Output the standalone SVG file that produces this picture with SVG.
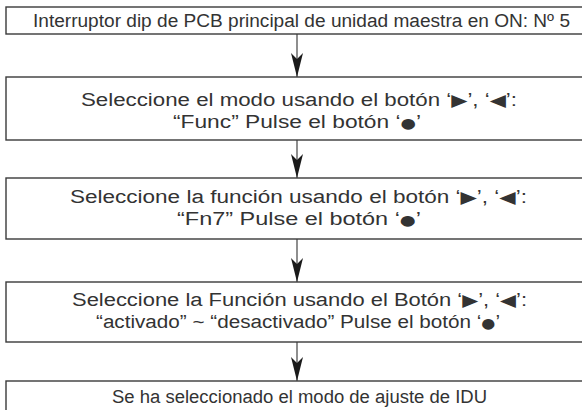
<svg xmlns="http://www.w3.org/2000/svg" width="582" height="410" viewBox="0 0 582 410">
<defs>
<style>
.box{fill:#fff;stroke:#3a3a3a;stroke-width:1.4}
.t{font-family:"Liberation Sans",Arial,sans-serif;font-size:18px;fill:#333;text-anchor:middle}
.s{font-family:"DejaVu Sans",sans-serif;font-size:17px}
.d{font-family:"DejaVu Sans",sans-serif;font-size:14px}
.c{stroke:#444;stroke-width:1.2;fill:none}
</style>
<marker id="ah" viewBox="0 0 24 14" refX="24" refY="7" markerWidth="24" markerHeight="14" markerUnits="userSpaceOnUse" orient="auto">
<path d="M0,1 L24,7 L0,13 L6,7 Z" fill="#1a1a1a"/>
</marker>
</defs>
<rect width="582" height="410" fill="#fff"/>
<g id="connectors">
<line class="c" x1="297" y1="34" x2="297" y2="77" marker-end="url(#ah)"/>
<line class="c" x1="297" y1="140" x2="297" y2="178" marker-end="url(#ah)"/>
<line class="c" x1="297" y1="239" x2="297" y2="282" marker-end="url(#ah)"/>
<line class="c" x1="297" y1="342" x2="297" y2="381" marker-end="url(#ah)"/>
</g>
<g id="n1">
<rect class="box" x="6" y="7" width="590" height="27"/>
<text class="t" x="301.5" y="27" textLength="537" lengthAdjust="spacingAndGlyphs">Interruptor dip de PCB principal de unidad maestra en ON: Nº 5</text>
</g>
<g id="n2">
<rect class="box" x="6" y="77" width="590" height="63"/>
<text class="t" x="299" y="106" textLength="436" lengthAdjust="spacingAndGlyphs">Seleccione el modo usando el botón ‘<tspan class="s">▶</tspan>’, ‘<tspan class="s">◀</tspan>’:</text>
<text class="t" x="297" y="128" textLength="248" lengthAdjust="spacingAndGlyphs">“Func” Pulse el botón ‘<tspan class="d">●</tspan>’</text>
</g>
<g id="n3">
<rect class="box" x="6" y="178" width="590" height="61"/>
<text class="t" x="298.5" y="203" textLength="457" lengthAdjust="spacingAndGlyphs">Seleccione la función usando el botón ‘<tspan class="s">▶</tspan>’, ‘<tspan class="s">◀</tspan>’:</text>
<text class="t" x="299" y="225" textLength="244" lengthAdjust="spacingAndGlyphs">“Fn7” Pulse el botón ‘<tspan class="d">●</tspan>’</text>
</g>
<g id="n4">
<rect class="box" x="6" y="282" width="590" height="60"/>
<text class="t" x="299.5" y="306" textLength="455" lengthAdjust="spacingAndGlyphs">Seleccione la Función usando el Botón ‘<tspan class="s">▶</tspan>’, ‘<tspan class="s">◀</tspan>’:</text>
<text class="t" x="298" y="328" textLength="404" lengthAdjust="spacingAndGlyphs">“activado” ~ “desactivado” Pulse el botón ‘<tspan class="d">●</tspan>’</text>
</g>
<g id="n5">
<rect class="box" x="6" y="381" width="590" height="40"/>
<text class="t" x="299.5" y="403" textLength="375" lengthAdjust="spacingAndGlyphs">Se ha seleccionado el modo de ajuste de IDU</text>
</g>
</svg>
